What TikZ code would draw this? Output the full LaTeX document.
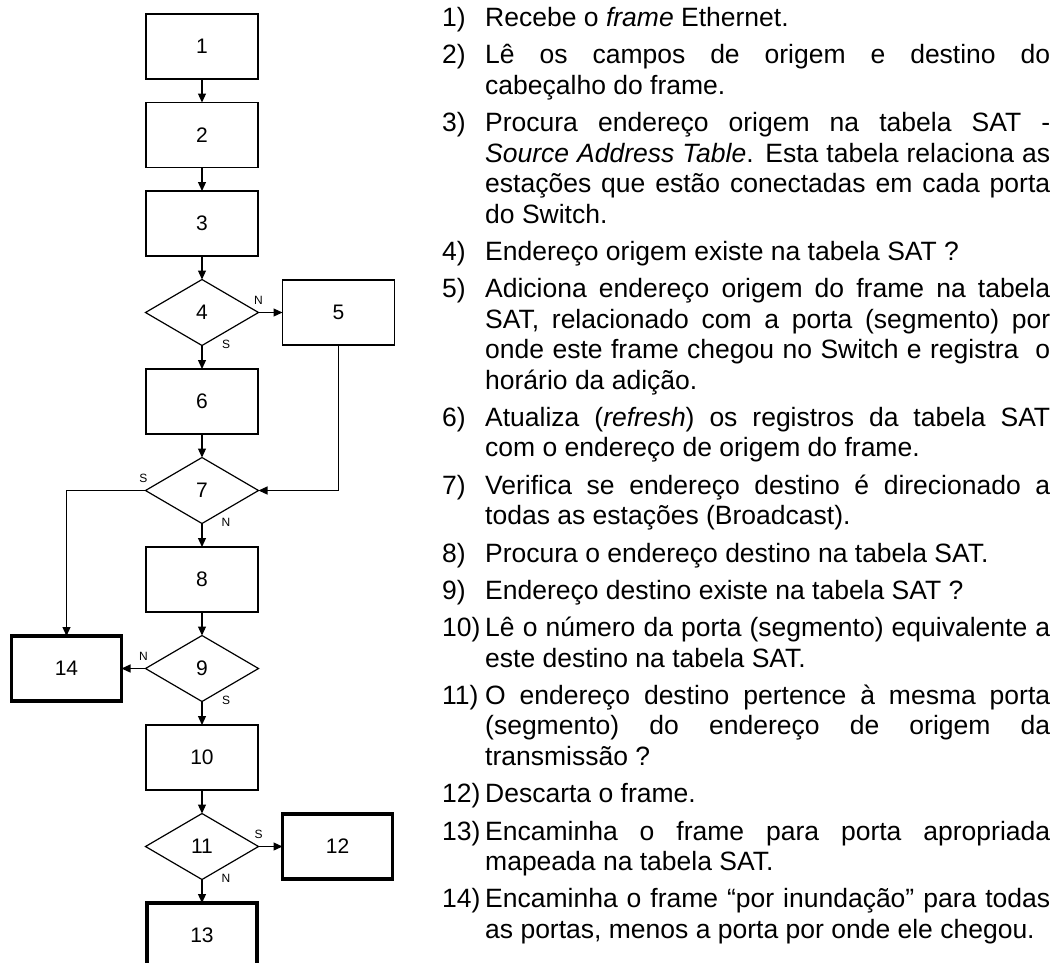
\documentclass[tikz,border=0pt]{standalone}
\usepackage{fontspec}
\setmainfont{Liberation Sans}
\usetikzlibrary{shapes.geometric,arrows.meta,positioning}

% one numbered step of the legend, with a hanging indent
\newcommand{\passo}[2]{\noindent\hangindent=43pt\hangafter=1\makebox[43pt][l]{#1)}#2\par}

\begin{document}
\begin{tikzpicture}[
  x=1pt, y=-1pt,
  node distance=23.5pt and 24pt,
  box/.style={draw, line width=1.2pt, minimum width=112pt, minimum height=65pt, inner sep=0pt, outer sep=0pt, font=\fontsize{21}{24}\selectfont},
  endbox/.style={box, line width=3.4pt, minimum width=110pt},
  decision/.style={box, diamond, minimum width=113pt, minimum height=66pt},
  arr/.style={-{Triangle[length=9pt,width=8pt]}, line width=1.2pt},
  yn/.style={inner sep=0pt, font=\fontsize{12}{14}\selectfont},
  ynside/.style={yn, above=7pt},
  yndown/.style={yn, xshift=24pt, yshift=1.5pt},
  steps/.style={text width=608pt, align=justify, inner sep=0pt,
    font={\fontsize{26.5}{30.5}\selectfont\setlength{\parskip}{6.8pt}\tolerance=10000\hyphenpenalty=10000}}
]
  \useasboundingbox (0,0) rectangle (1062,962);

  % flowchart
  \node[box] (p1) at (202,46.5) {1};
  \node[box, below=of p1] (p2) {2};
  \node[box, below=of p2] (p3) {3};
  \node[decision, below=of p3] (p4) {4};
  \node[box, right=of p4] (p5) {5};
  \node[box, below=of p4] (p6) {6};
  \node[decision, below=of p6] (p7) {7};
  \node[box, below=of p7] (p8) {8};
  \node[decision, below=of p8] (p9) {9};
  \node[endbox, left=of p9] (p14) {14};
  \node[box, below=of p9] (p10) {10};
  \node[decision, below=of p10] (p11) {11};
  \node[endbox, right=of p11] (p12) {12};
  \node[endbox, below=of p11] (p13) {13};

  \draw[arr] (p1) -- (p2);
  \draw[arr] (p2) -- (p3);
  \draw[arr] (p3) -- (p4);
  \draw[arr] (p4) -- node[ynside, pos=0] {N} (p5);
  \draw[arr] (p4) -- node[yndown, pos=0] {S} (p6);
  \draw[arr] (p6) -- (p7);
  \draw[arr] (p5) |- (p7);
  \draw[arr] (p7) -| node[ynside, pos=0, xshift=-2pt] {S} (p14);
  \draw[arr] (p7) -- node[yndown, pos=0] {N} (p8);
  \draw[arr] (p8) -- (p9);
  \draw[arr] (p9) -- node[ynside, pos=0, xshift=-2pt] {N} (p14);
  \draw[arr] (p9) -- node[yndown, pos=0] {S} (p10);
  \draw[arr] (p10) -- (p11);
  \draw[arr] (p11) -- node[ynside, pos=0] {S} (p12);
  \draw[arr] (p11) -- node[yndown, pos=0] {N} (p13);

  % legend
  \node[steps, anchor=north west] (passos) at (442,7) {%
    \passo{1}{Recebe o \textit{frame} Ethernet.}%
    \passo{2}{Lê os campos de origem e destino do\linebreak cabeçalho do frame.}%
    \passo{3}{Procura endereço origem na tabela SAT -\linebreak \textit{Source Address Table}. Esta tabela relaciona as\linebreak estações que estão conectadas em cada porta\linebreak do Switch.}%
    \passo{4}{Endereço origem existe na tabela SAT ?}%
    \passo{5}{Adiciona endereço origem do frame na tabela\linebreak SAT, relacionado com a porta (segmento) por\linebreak onde este frame chegou no Switch e registra\ \ o\linebreak horário da adição.}%
    \passo{6}{Atualiza (\textit{refresh}) os registros da tabela SAT\linebreak com o endereço de origem do frame.}%
    \passo{7}{Verifica se endereço destino é direcionado a\linebreak todas as estações (Broadcast).}%
    \passo{8}{Procura o endereço destino na tabela SAT.}%
    \passo{9}{Endereço destino existe na tabela SAT ?}%
    \passo{10}{Lê o número da porta (segmento) equivalente a\linebreak este destino na tabela SAT.}%
    \passo{11}{O endereço destino pertence à mesma porta\linebreak (segmento) do endereço de origem da\linebreak transmissão ?}%
    \passo{12}{Descarta o frame.}%
    \passo{13}{Encaminha o frame para porta apropriada\linebreak mapeada na tabela SAT.}%
    \passo{14}{Encaminha o frame “por inundação” para todas\linebreak as portas, menos a porta por onde ele chegou.}%
  };
\end{tikzpicture}
\end{document}
